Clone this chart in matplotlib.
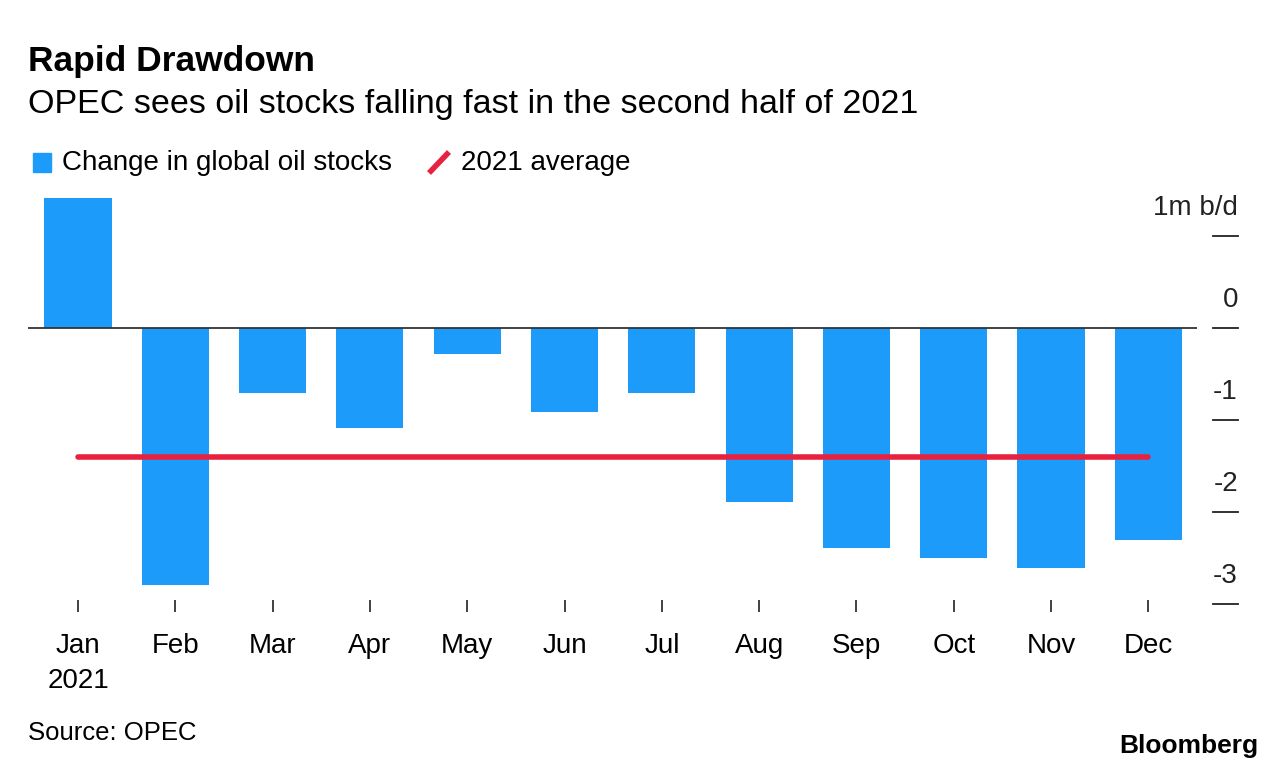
import matplotlib.pyplot as plt
import numpy as np
from matplotlib.transforms import blended_transform_factory

plt.rcParams['font.family'] = ['Liberation Sans', 'DejaVu Sans']

# Data (million barrels a day)
months = ['Jan', 'Feb', 'Mar', 'Apr', 'May', 'Jun',
          'Jul', 'Aug', 'Sep', 'Oct', 'Nov', 'Dec']
stock_change = [1.41, -2.79, -0.71, -1.09, -0.28, -0.91,
                -0.71, -1.89, -2.39, -2.50, -2.61, -2.30]
avg_2021 = -1.40
y_ticks = [1, 0, -1, -2, -3]
y_labels = ['1m b/d', '0', '-1', '-2', '-3']

blue = '#1d9bfb'
red = '#e8213f'
dark = '#222222'

fig = plt.figure(figsize=(12.86, 7.72), dpi=100)
W, H = 1286, 772
ax = fig.add_axes([28 / W, 1 - 600 / H, 1169 / W, 405 / H])

x = np.arange(len(months))
ax.bar(x, stock_change, width=0.69, color=blue, zorder=2)
ax.axhline(0, color='#333333', lw=1.3, zorder=3)
ax.plot([x[0], x[-1]], [avg_2021, avg_2021], color=red, lw=4,
        solid_capstyle='round', zorder=4)

ax.set_xlim(-0.514, 11.5)
ax.set_ylim((328 - 600) / 92, (328 - 195) / 92)

for s in ax.spines.values():
    s.set_visible(False)

ax.set_xticks(x)
ax.set_xticklabels([m + '\n2021' if m == 'Jan' else m for m in months],
                   fontsize=20, linespacing=1.45, va='top')
ax.tick_params(axis='x', length=8.6, width=1.3, color='#333333', pad=15.5)
ax.set_yticks([])

# right-hand value axis: short dashes with labels above them
tr = blended_transform_factory(ax.transAxes, ax.transData)
for v, lab in zip(y_ticks, y_labels):
    ax.plot([1.0137, 1.035], [v, v], color=dark, lw=1.3, transform=tr,
            clip_on=False)
    ax.text(1.035, v + 0.30, lab, transform=tr, ha='right', va='center',
            fontsize=20, color=dark)

# titles
fig.text(28 / W, 1 - 62 / H, 'Rapid Drawdown', fontsize=25.5, fontweight='bold',
         va='center', ha='left', color='black')
fig.text(28 / W, 1 - 104 / H, 'OPEC sees oil stocks falling fast in the second half of 2021',
         fontsize=24.5, va='center', ha='left', color='black')

# legend
fig.patches.append(plt.Rectangle((33 / W, 1 - 172 / H), 18 / W, 19 / H,
                                 transform=fig.transFigure, color=blue))
fig.text(62 / W, 1 - 163 / H, 'Change in global oil stocks', fontsize=20,
         va='center', ha='left')
fig.add_artist(plt.Line2D([429 / W, 449 / W], [1 - 173 / H, 1 - 152 / H],
                          color=red, lw=4, solid_capstyle='butt'))
fig.text(461 / W, 1 - 163 / H, '2021 average', fontsize=20,
         va='center', ha='left')

# footer
fig.text(28 / W, 1 - 733 / H, 'Source: OPEC', fontsize=18.5, va='center', ha='left')
fig.text(1258 / W, 1 - 746 / H, 'Bloomberg', fontsize=19, fontweight='bold',
         va='center', ha='right')

fig.savefig('out.png', dpi=100)
